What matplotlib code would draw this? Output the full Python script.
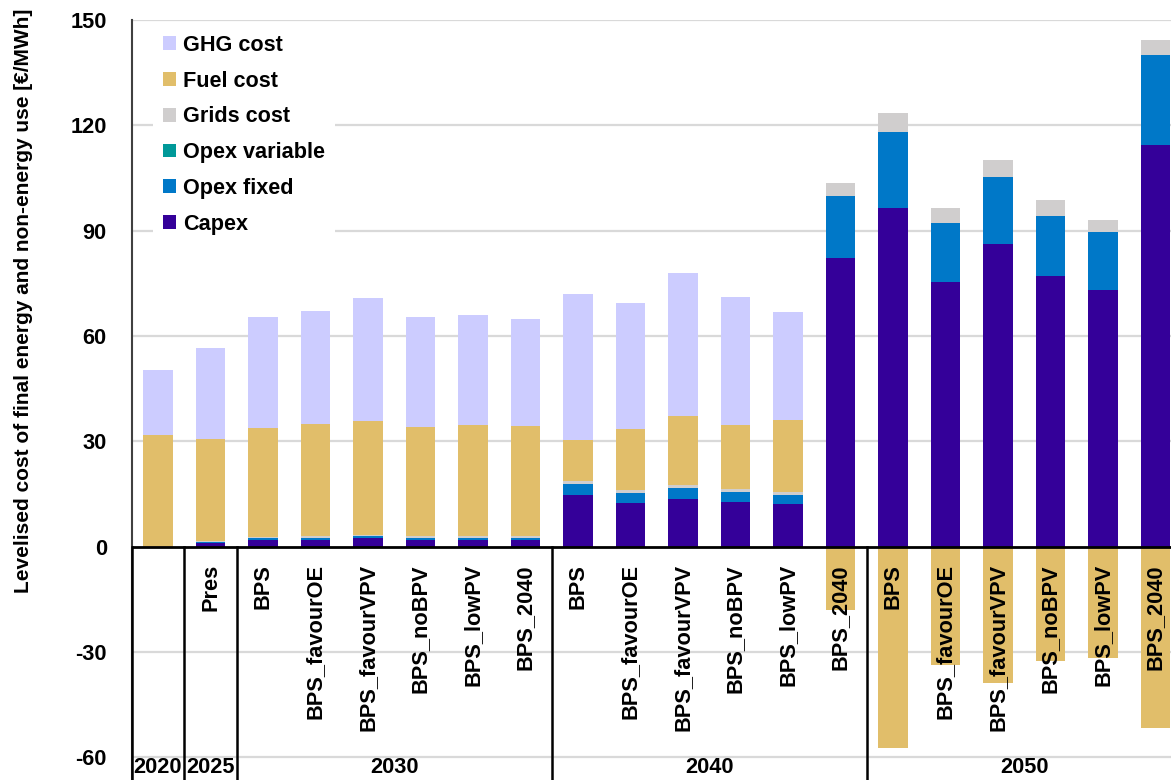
import matplotlib
matplotlib.use("Agg")
import matplotlib.pyplot as plt
from matplotlib.patches import Patch
import numpy as np

plt.rcParams['font.family'] = ['Liberation Sans', 'DejaVu Sans']

# ---------------- data ----------------
scenarios = ["", "Pres",
             "BPS", "BPS_favourOE", "BPS_favourVPV", "BPS_noBPV", "BPS_lowPV", "BPS_2040",
             "BPS", "BPS_favourOE", "BPS_favourVPV", "BPS_noBPV", "BPS_lowPV", "BPS_2040",
             "BPS", "BPS_favourOE", "BPS_favourVPV", "BPS_noBPV", "BPS_lowPV", "BPS_2040"]
years = ["2020", "2025", "2030", "2040", "2050"]
year_sizes = [1, 1, 6, 6, 6]

capex = [0.0, 1.0, 2.0, 2.0, 2.4, 2.0, 2.0, 2.0,
         14.7, 12.5, 13.7, 12.8, 12.1, 82.3,
         96.4, 75.3, 86.2, 77.0, 73.0, 114.4]
opex_fixed = [0.0, 0.3, 0.6, 0.6, 0.5, 0.6, 0.6, 0.6,
              3.2, 2.8, 2.9, 2.8, 2.6, 17.7,
              21.7, 16.8, 19.0, 17.1, 16.5, 25.5]
opex_variable = [0.0, 0.0, 0.0, 0.0, 0.0, 0.0, 0.0, 0.0,
                 0.0, 0.0, 0.0, 0.0, 0.0, 0.0,
                 0.0, 0.0, 0.0, 0.0, 0.0, 0.0]
grids_cost = [0.0, 0.2, 0.2, 0.3, 0.3, 0.3, 0.3, 0.3,
              0.8, 0.9, 0.9, 0.8, 0.8, 3.5,
              5.5, 4.3, 5.0, 4.7, 3.5, 4.5]
fuel_cost = [31.8, 29.1, 31.0, 32.1, 32.5, 31.3, 31.8, 31.6,
             11.7, 17.3, 19.8, 18.3, 20.6, -18.0,
             -57.4, -33.7, -38.7, -32.6, -31.6, -51.6]
ghg_cost = [18.5, 26.1, 31.7, 32.0, 35.2, 31.3, 31.2, 30.4,
            41.5, 35.9, 40.7, 36.4, 30.8, 0.0,
            0.0, 0.0, 0.0, 0.0, 0.0, 0.0]

colors = {"Capex": "#340099", "Opex fixed": "#0078c8", "Opex variable": "#009999",
          "Grids cost": "#d0cece", "Fuel cost": "#e1be6a", "GHG cost": "#ccccff"}

# ---------------- figure ----------------
W, H = 1171, 780
fig = plt.figure(figsize=(W / 100, H / 100), dpi=100)
ax_left_px, ax_w_px = 131.75, 1050.0
ax = fig.add_axes([ax_left_px / W, 0, ax_w_px / W, (H - 20) / H])

n = len(scenarios)
x = np.arange(n)
ymin = -66.45
ax.set_xlim(-0.5, n - 0.5)
ax.set_ylim(ymin, 150)

bw = 0.56
fuel = np.array(fuel_cost)
pos_series = [("Capex", np.array(capex)), ("Opex fixed", np.array(opex_fixed)),
              ("Opex variable", np.array(opex_variable)), ("Grids cost", np.array(grids_cost)),
              ("Fuel cost", np.clip(fuel, 0, None)), ("GHG cost", np.array(ghg_cost))]
bottom = np.zeros(n)
for name, vals in pos_series:
    ax.bar(x, vals, bw, bottom=bottom, color=colors[name], zorder=2, linewidth=0)
    bottom = bottom + vals
ax.bar(x, np.clip(fuel, None, 0), bw, color=colors["Fuel cost"], zorder=2, linewidth=0)

# grid and y axis
yt = np.arange(-60, 151, 30)
ax.set_yticks(yt)
ax.set_yticklabels([str(v) for v in yt], fontsize=15.7, fontweight='bold')
ax.tick_params(axis='y', length=0, pad=18)
ax.set_xticks([])
for v in yt:
    if v != 0:
        ax.axhline(v, color='#d9d9d9', lw=1.6, zorder=0)
for s in ['top', 'right', 'bottom']:
    ax.spines[s].set_visible(False)
ax.spines['left'].set_color('#404040')
ax.spines['left'].set_linewidth(1.5)

# zero line
ax.axhline(0, color='black', lw=2.0, zorder=3)

# category table separators
bounds = np.cumsum([0] + year_sizes) - 0.5
for b in bounds:
    ax.plot([b, b], [0, ymin], color='black', lw=1.8, zorder=3, clip_on=False)

# scenario labels
for xi, lab in zip(x, scenarios):
    if lab:
        ax.text(xi, -5.0, lab, rotation=90, ha='center', va='top', fontsize=15.7,
                fontweight='bold', zorder=4)

# year labels
start = 0
for yr, sz in zip(years, year_sizes):
    ax.text(start + (sz - 1) / 2, -63.0, yr, ha='center', va='center', fontsize=15.7,
            fontweight='bold', zorder=4)
    start += sz

# legend
order = ["GHG cost", "Fuel cost", "Grids cost", "Opex variable", "Opex fixed", "Capex"]
handles = [Patch(facecolor=colors[k], edgecolor='none', label=k) for k in order]
leg = ax.legend(handles=handles, loc='upper left', bbox_to_anchor=(153 / W, 1 - 25 / H),
                bbox_transform=fig.transFigure, frameon=True, fancybox=False,
                edgecolor='none', facecolor='white', framealpha=1,
                prop={'size': 15.6, 'weight': 'bold'}, handlelength=0.6, handleheight=0.6,
                handletextpad=0.32, labelspacing=0.68, borderaxespad=0, borderpad=0.46)
leg.set_zorder(5)

fig.text(24 / W, 1 - 301 / H, "Levelised cost of final energy and non-energy use [€/MWh]",
         rotation=90, ha='center', va='center', fontsize=15.0, fontweight='bold')

fig.savefig("out.png", dpi=100)
